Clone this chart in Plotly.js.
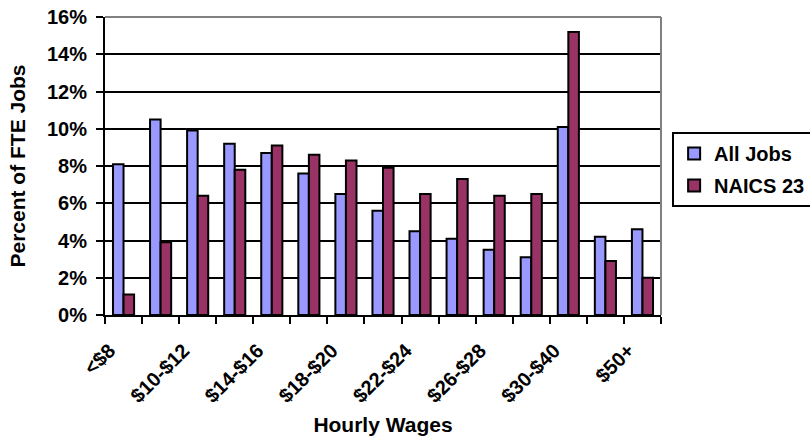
<!DOCTYPE html>
<html>
<head>
<meta charset="utf-8">
<script src="https://cdn.plot.ly/plotly-3.0.1.min.js"></script>
<style>html,body{margin:0;padding:0;background:#fff;}#chart{width:810px;height:436px;}</style>
</head>
<body>
<div id="chart"></div>
<script>
const categories = ['<$8','$8-$10','$10-$12','$12-$14','$14-$16','$16-$18','$18-$20','$20-$22','$22-$24','$24-$26','$26-$28','$28-$30','$30-$40','$40-$50','$50+'];
const tickLabels = ['<$8','','$10-$12','','$14-$16','','$18-$20','','$22-$24','','$26-$28','','$30-$40','','$50+'];
const allJobs = [8.1,10.5,9.9,9.2,8.7,7.6,6.5,5.6,4.5,4.1,3.5,3.1,10.1,4.2,4.6];
const naics23 = [1.1,3.9,6.4,7.8,9.1,8.6,8.3,7.9,6.5,7.3,6.4,6.5,15.2,2.9,2.0];
const seriesNames = ['All Jobs','NAICS 23'];

const F = 'Arial, Liberation Sans, sans-serif';
const traces = [
  {type:'bar', name:seriesNames[0], x:categories, y:allJobs, legendgroup:'a',
   marker:{color:'#9999FF', line:{color:'#000', width:2}}},
  {type:'bar', name:seriesNames[1], x:categories, y:naics23, legendgroup:'b',
   marker:{color:'#993366', line:{color:'#000', width:2}}}
];
const layout = {
  width:810, height:436,
  margin:{l:105, r:149, t:17, b:121, autoexpand:false},
  paper_bgcolor:'#fff', plot_bgcolor:'#fff',
  barmode:'group', bargap:0.43, bargroupgap:0,
  font:{family:F, color:'#000', size:20, weight:700},
  xaxis:{type:'category', tickmode:'array', tickvals:categories, ticktext:tickLabels,
    tickson:'boundaries', ticks:'outside', ticklen:7, tickwidth:2, tickcolor:'#000',
    tickangle:-45, showline:true, linecolor:'#000', linewidth:2, showgrid:false,
    ticklabelshift:-14, ticklabelstandoff:14,
    tickfont:{family:F, size:20, weight:700},
    title:{text:'Hourly Wages', font:{family:F, size:21, weight:700}, standoff:30}},
  yaxis:{range:[0,16], dtick:2, ticksuffix:'%', ticks:'outside', ticklen:7, tickwidth:2,
    tickcolor:'#000', showline:true, linecolor:'#000', linewidth:2,
    showgrid:true, gridcolor:'#000', gridwidth:2, zeroline:false,
    ticklabelstandoff:5,
    tickfont:{family:F, size:20, weight:700},
    title:{text:'Percent of FTE Jobs', font:{family:F, size:21, weight:700}, standoff:16}},
  shapes:[
    {type:'line', xref:'paper', yref:'paper', x0:0, x1:1, y0:1, y1:1, line:{color:'#808080', width:2}},
    {type:'line', xref:'paper', yref:'paper', x0:1, x1:1, y0:0, y1:1, line:{color:'#808080', width:2}}
  ],
  legend:{x:1.02, y:0.614, xanchor:'left', yanchor:'top', bordercolor:'#000', borderwidth:2,
    bgcolor:'#fff', font:{family:F, size:20, weight:700}, traceorder:'grouped', tracegroupgap:3},
  showlegend:true
};
Plotly.newPlot('chart', traces, layout, {displayModeBar:false, staticPlot:true});
</script>
</body>
</html>
